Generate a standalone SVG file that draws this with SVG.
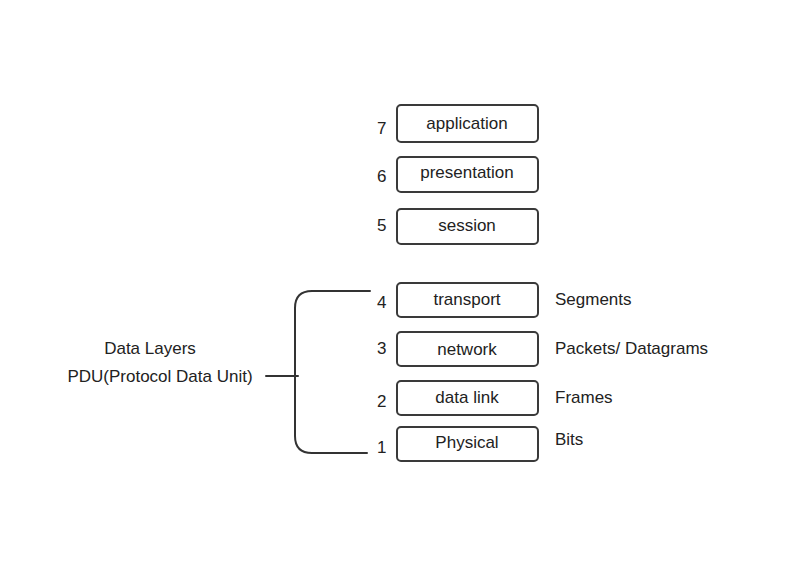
<svg xmlns="http://www.w3.org/2000/svg" width="798" height="567" viewBox="0 0 798 567">
<style>
.box{fill:#fff;stroke:#3a3a3a;stroke-width:2}
.t{font-family:"Liberation Sans",Arial,sans-serif;font-size:17px;fill:#222}
.c{text-anchor:middle}
.ln{fill:none;stroke:#333;stroke-width:2;stroke-linecap:round}
</style>
<rect width="798" height="567" fill="#fff"/>
<g id="n7"><rect class="box" x="397" y="105" width="141" height="37" rx="4"/><text class="t c" x="467" y="129">application</text><text class="t" x="377" y="134">7</text></g>
<g id="n6"><rect class="box" x="397" y="157" width="141" height="35" rx="4"/><text class="t c" x="467" y="178">presentation</text><text class="t" x="377" y="182">6</text></g>
<g id="n5"><rect class="box" x="397" y="209" width="141" height="35" rx="4"/><text class="t c" x="467" y="231">session</text><text class="t" x="377" y="231">5</text></g>
<g id="n4"><rect class="box" x="397" y="283" width="141" height="34" rx="4"/><text class="t c" x="467" y="305">transport</text><text class="t" x="377" y="308">4</text><text class="t" x="555" y="305">Segments</text></g>
<g id="n3"><rect class="box" x="397" y="332" width="141" height="34" rx="4"/><text class="t c" x="467" y="355">network</text><text class="t" x="377" y="354">3</text><text class="t" x="555" y="354">Packets/ Datagrams</text></g>
<g id="n2"><rect class="box" x="397" y="381" width="141" height="34" rx="4"/><text class="t c" x="467" y="403">data link</text><text class="t" x="377" y="407">2</text><text class="t" x="555" y="403">Frames</text></g>
<g id="n1"><rect class="box" x="397" y="427" width="141" height="34" rx="4"/><text class="t c" x="467" y="448">Physical</text><text class="t" x="377" y="453">1</text><text class="t" x="555" y="445">Bits</text></g>
<g id="pdu"><text class="t c" x="150" y="354">Data Layers</text><text class="t c" x="160" y="382">PDU(Protocol Data Unit)</text></g>
<g id="connectors">
<path class="ln" d="M370 291 H312 Q295 291 295 308 V436 Q295 453 312 453 H367"/>
<path class="ln" d="M266 376 H298"/>
</g>
</svg>
